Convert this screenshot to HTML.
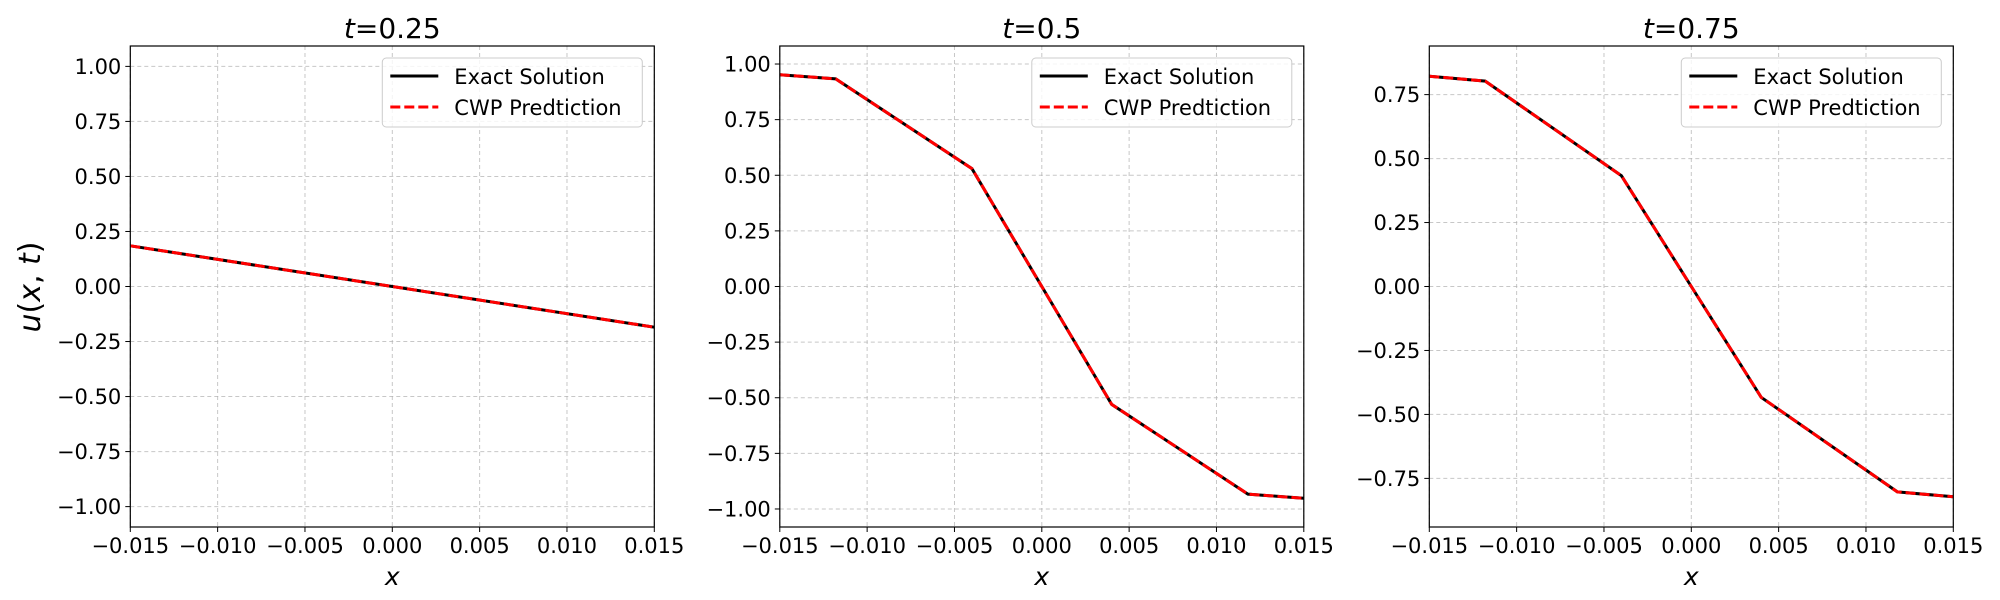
<!DOCTYPE html>
<html><head><meta charset="utf-8"><style>
html,body{margin:0;padding:0;background:#fff;}
svg{display:block;}
text{font-family:"DejaVu Sans","Liberation Sans",sans-serif;fill:#000;}
.tk{font-size:21px;}
.grid{stroke:#b0b0b0;stroke-width:1;stroke-dasharray:4,3;opacity:0.7;}
</style></head><body>
<svg id="s" width="2000" height="600" xmlns="http://www.w3.org/2000/svg"></svg>
<script>
(function(){
var S=document.getElementById('s');var h='';
var T0=46,B0=527;
var panels=[
 {L:130.3,R:654.3,lim:1.0926,ticks:[1,0.75,0.5,0.25,0,-0.25,-0.5,-0.75,-1],title:'0.25',
  pts:[[-0.015,0.185],[0.015,-0.185]]},
 {L:779.8,R:1303.8,lim:1.081,ticks:[1,0.75,0.5,0.25,0,-0.25,-0.5,-0.75,-1],title:'0.5',
  pts:[[-0.015,0.952],[-0.0118,0.933],[-0.004,0.53],[0,0],[0.004,-0.53],[0.0118,-0.933],[0.015,-0.952]]},
 {L:1429.3,R:1953.3,lim:0.94,ticks:[0.75,0.5,0.25,0,-0.25,-0.5,-0.75],title:'0.75',
  pts:[[-0.015,0.822],[-0.0118,0.803],[-0.004,0.433],[0,0],[0.004,-0.433],[0.0118,-0.803],[0.015,-0.822]]}
];
var xt=[-0.015,-0.01,-0.005,0,0.005,0.01,0.015];
function fmt(v,d){var s=Math.abs(v).toFixed(d);return (v<-1e-9?'\u2212':'')+s;}
panels.forEach(function(p){
 var X=function(x){return p.L+(x+0.015)/0.03*(p.R-p.L);};
 var mid=(T0+B0)/2, Y=function(y){return mid-y/p.lim*(B0-T0)/2;};
 xt.forEach(function(v){var x=X(v);h+='<line class="grid" x1="'+x+'" y1="'+T0+'" x2="'+x+'" y2="'+B0+'"/>';
  h+='<line x1="'+x+'" y1="'+B0+'" x2="'+x+'" y2="'+(B0+5)+'" stroke="#000" stroke-width="1"/>';
  h+='<text class="tk" x="'+x+'" y="'+(B0+26)+'" text-anchor="middle">'+fmt(v,3)+'</text>';});
 p.ticks.forEach(function(v){var y=Y(v);h+='<line class="grid" x1="'+p.L+'" y1="'+y+'" x2="'+p.R+'" y2="'+y+'"/>';
  h+='<line x1="'+(p.L-5)+'" y1="'+y+'" x2="'+p.L+'" y2="'+y+'" stroke="#000" stroke-width="1"/>';
  h+='<text class="tk" x="'+(p.L-9)+'" y="'+(y+7.5)+'" text-anchor="end">'+fmt(v,2)+'</text>';});
 var d=p.pts.map(function(q){return X(q[0]).toFixed(1)+','+Y(q[1]).toFixed(1);}).join(' ');
 h+='<polyline points="'+d+'" fill="none" stroke="#000" stroke-width="3"/>';
 h+='<polyline points="'+d+'" fill="none" stroke="#ff0000" stroke-width="3" stroke-dasharray="10,4"/>';
 h+='<rect x="'+p.L+'" y="'+T0+'" width="'+(p.R-p.L)+'" height="'+(B0-T0)+'" fill="none" stroke="#000" stroke-width="1.2"/>';
 var cx=(p.L+p.R)/2;
 h+='<text x="'+cx+'" y="38" text-anchor="middle" font-size="28"><tspan font-style="italic">t</tspan>=0'+p.title.slice(1)+'</text>';
 h+='<text x="'+cx+'" y="585" text-anchor="middle" font-size="25" font-style="italic">x</text>';
 var lx=p.R-272,ly=58;
 h+='<rect x="'+lx+'" y="'+ly+'" width="260" height="69" rx="4" fill="#fff" fill-opacity="0.8" stroke="#ccc"/>';
 h+='<line x1="'+(lx+8)+'" y1="'+(ly+18)+'" x2="'+(lx+56)+'" y2="'+(ly+18)+'" stroke="#000" stroke-width="3"/>';
 h+='<line x1="'+(lx+8)+'" y1="'+(ly+49)+'" x2="'+(lx+56)+'" y2="'+(ly+49)+'" stroke="#ff0000" stroke-width="3" stroke-dasharray="10,4"/>';
 h+='<text class="tk" x="'+(lx+72)+'" y="'+(ly+26)+'">Exact Solution</text>';
 h+='<text class="tk" x="'+(lx+72)+'" y="'+(ly+57)+'">CWP Predtiction</text>';
});
h+='<text x="0" y="0" font-size="30" transform="translate(40,287) rotate(-90)" text-anchor="middle"><tspan font-style="italic">u</tspan>(<tspan font-style="italic">x</tspan>, <tspan font-style="italic">t</tspan>)</text>';
S.innerHTML=h;
})();
</script>
</body></html>
